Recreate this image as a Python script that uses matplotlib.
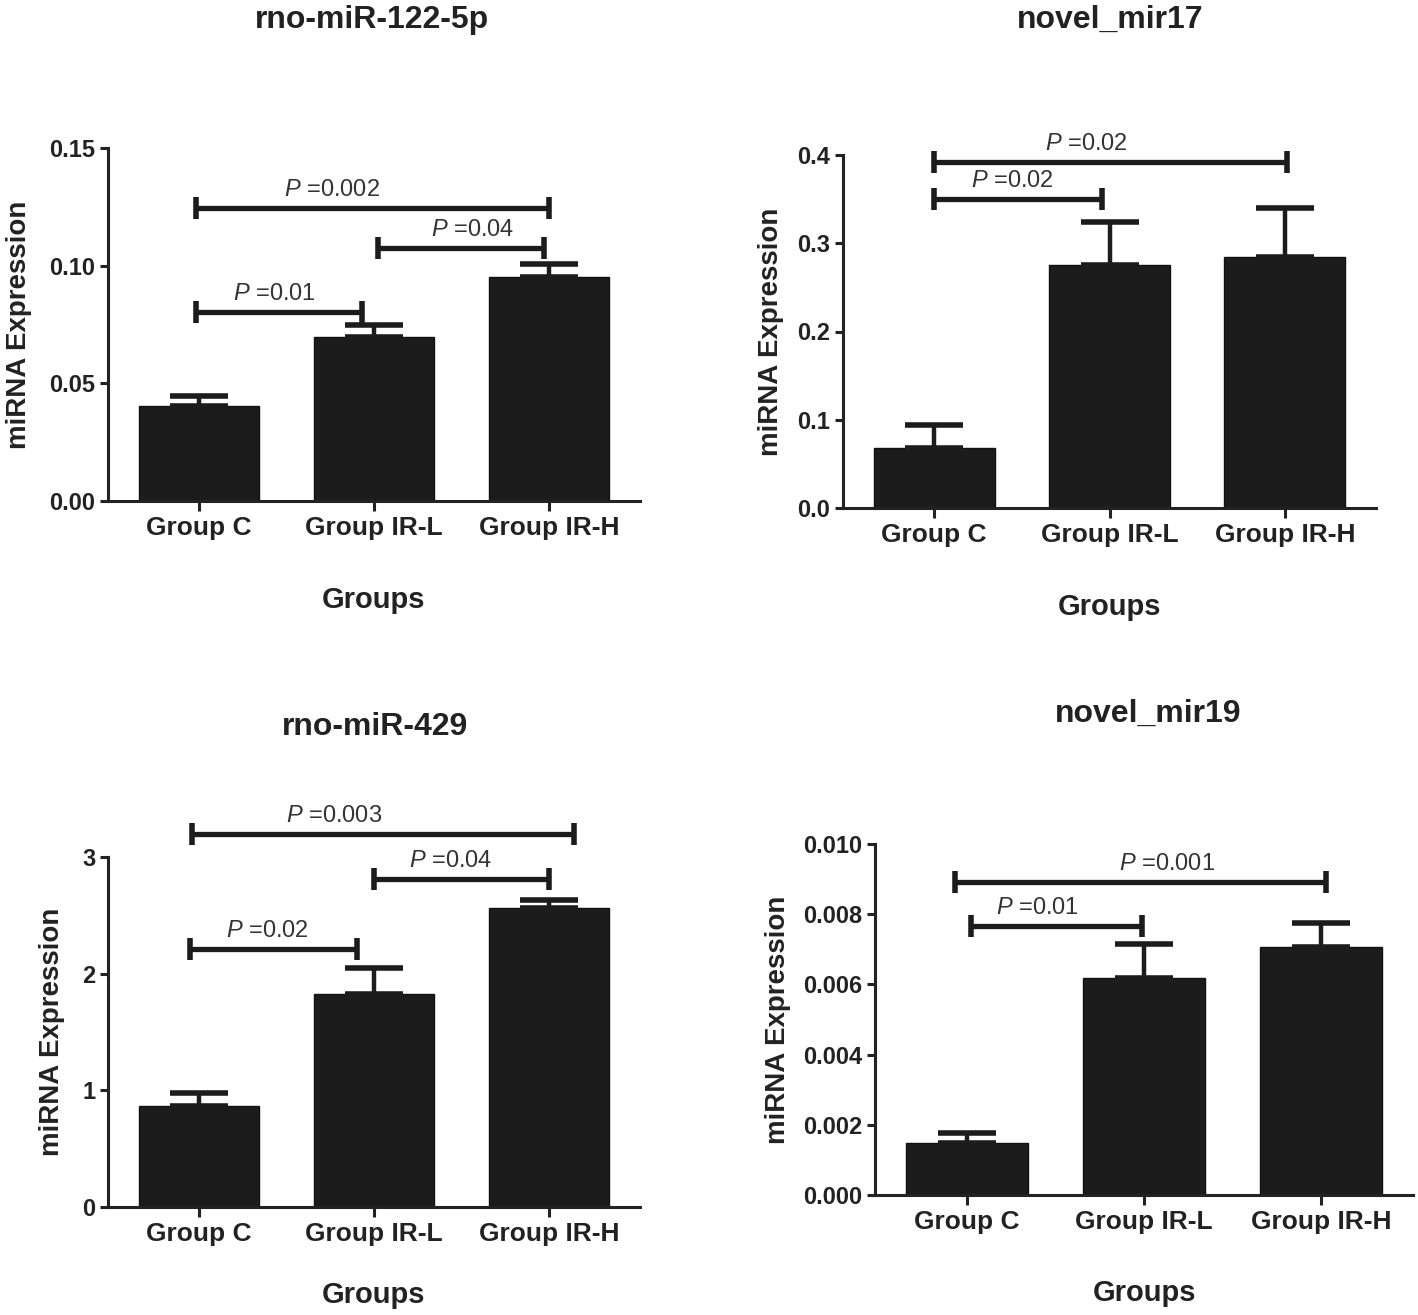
import numpy as np
import matplotlib
matplotlib.use("Agg")
from matplotlib import pyplot as plt
from matplotlib.ticker import FormatStrFormatter

plt.rcParams['font.family'] = ['Liberation Sans', 'DejaVu Sans']
plt.rcParams['mathtext.fontset'] = 'custom'
plt.rcParams['mathtext.it'] = 'Liberation Sans:italic'
plt.rcParams['mathtext.rm'] = 'Liberation Sans'

groups = ['Group C', 'Group IR-L', 'Group IR-H']
titles = ['rno-miR-122-5p', 'novel_mir17', 'rno-miR-429', 'novel_mir19']

# mean and upper error (SEM)
mir122_mean = [0.0405, 0.0695, 0.0951]
mir122_sem = [0.0043, 0.0051, 0.0055]
mir17_mean = [0.068, 0.2755, 0.2845]
mir17_sem = [0.026, 0.049, 0.0555]
mir429_mean = [0.866, 1.83, 2.56]
mir429_sem = [0.11, 0.22, 0.07]
mir19_mean = [0.00149, 0.00617, 0.00706]
mir19_sem = [0.00028, 0.00097, 0.00068]

# significance brackets: (from, to, height, p value, text x)
mir122_brackets = [(-0.02, 0.93, 0.0803, '0.01', 0.43),
                   (1.02, 1.97, 0.1075, '0.04', 1.565),
                   (-0.02, 2.0, 0.1245, '0.002', 0.76)]
mir17_brackets = [(0.0, 0.96, 0.350, '0.02', 0.445),
                  (0.0, 2.01, 0.392, '0.02', 0.87)]
mir429_brackets = [(-0.05, 0.905, 2.21, '0.02', 0.39),
                   (1.0, 2.0, 2.81, '0.04', 1.44),
                   (-0.04, 2.14, 3.20, '0.003', 0.77)]
mir19_brackets = [(0.02, 0.99, 0.00766, '0.01', 0.40),
                  (-0.07, 2.03, 0.00891, '0.001', 1.13)]

y_max = [0.15, 0.4, 3, 0.010]
y_step = [0.05, 0.1, 1, 0.002]
y_fmt = ['%.2f', '%.1f', '%d', '%.3f']

W, H = 1418, 1315
# left, right, top, bottom of each plot area (pixels)
axes_px = [(108, 640, 148, 501), (843, 1376, 155, 508),
           (108, 640, 857, 1207), (875, 1413, 844, 1195)]
title_px = [(372, 28), (1110, 28), (375, 735), (1148, 722)]
ylabel_x = [19, 771, 52, 778]
xlabel_off = [99, 99, 88, 98]

means = [mir122_mean, mir17_mean, mir429_mean, mir19_mean]
sems = [mir122_sem, mir17_sem, mir429_sem, mir19_sem]
brackets = [mir122_brackets, mir17_brackets, mir429_brackets, mir19_brackets]

dark = '#1c1c1c'
txt = '#222222'

fig = plt.figure(figsize=(W / 100, H / 100), dpi=100)

for k in range(4):
    l, r, t, b = axes_px[k]
    ax = fig.add_axes([l / W, 1 - b / H, (r - l) / W, (b - t) / H])
    x = np.arange(len(groups))
    ax.bar(x, means[k], 0.69, color=dark, edgecolor='#111111', linewidth=1, zorder=2)
    ax.errorbar(x, means[k], yerr=[np.zeros(3), sems[k]], fmt='none', ecolor=dark,
                elinewidth=3.2, capsize=21, capthick=4, zorder=3)

    for (x0, x1, h, p, tx) in brackets[k]:
        eb = ax.errorbar((x0 + x1) / 2, h, xerr=(x1 - x0) / 2, fmt='none', ecolor=dark,
                         elinewidth=3.8, capsize=8, capthick=4, zorder=4)
        for art in eb.get_children():
            art.set_clip_on(False)
        ax.annotate(r'$\it{P}$ =' + p, xy=(tx, h), xytext=(0, 5), textcoords='offset points',
                    ha='center', va='bottom', fontsize=17, color='#333333',
                    annotation_clip=False)

    ax.set_xlim(-0.52, 2.52)
    ax.set_ylim(0, y_max[k])
    ax.set_yticks(np.arange(0, y_max[k] + y_step[k] / 2, y_step[k]))
    ax.yaxis.set_major_formatter(FormatStrFormatter(y_fmt[k]))
    ax.set_xticks(x)
    ax.set_xticklabels(groups, fontsize=19, fontweight='bold', color=txt)
    for lab in ax.get_yticklabels():
        lab.set_fontsize(17)
        lab.set_fontweight('bold')
        lab.set_color(txt)
    ax.spines['top'].set_visible(False)
    ax.spines['right'].set_visible(False)
    for s in ['left', 'bottom']:
        ax.spines[s].set_linewidth(2.2)
        ax.spines[s].set_color(txt)
    ax.tick_params(axis='both', width=2.2, length=6, color=txt, pad=3)
    ax.tick_params(axis='x', length=7, pad=4)

    fig.text(title_px[k][0] / W, 1 - title_px[k][1] / H, titles[k], ha='center',
             va='baseline', fontsize=23, fontweight='bold', color=txt)
    fig.text(ylabel_x[k] / W, 1 - (t + b) / 2 / H, 'miRNA Expression', rotation=90,
             ha='center', va='center', fontsize=20, fontweight='bold', color=txt)
    fig.text((l + r) / 2 / W, 1 - (b + xlabel_off[k]) / H, 'Groups', ha='center',
             va='center', fontsize=21, fontweight='bold', color=txt)

fig.savefig('out.png', dpi=100, facecolor='white')
